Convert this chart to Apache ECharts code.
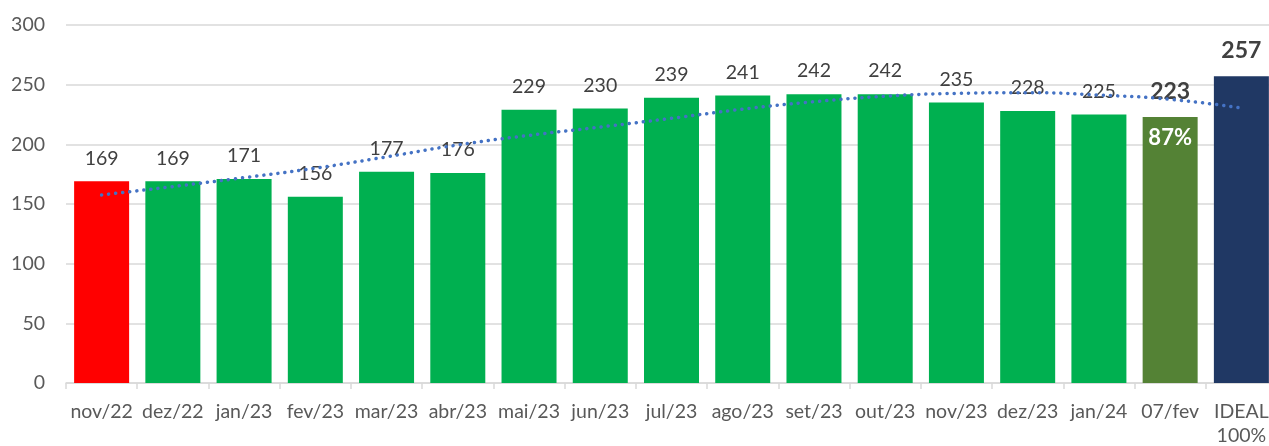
<!DOCTYPE html>
<html>
<head>
<meta charset="utf-8">
<script src="https://cdn.jsdelivr.net/npm/echarts@6/dist/echarts.min.js"></script>
<style>html,body{margin:0;padding:0;background:#fff}#c{width:1269px;height:446px}</style>
</head>
<body>
<div id="c"></div>
<script>
const categories = ['nov/22','dez/22','jan/23','fev/23','mar/23','abr/23','mai/23','jun/23','jul/23','ago/23','set/23','out/23','nov/23','dez/23','jan/24','07/fev','IDEAL\n100%'];
const values = [169,169,171,156,177,176,229,230,239,241,242,242,235,228,225,223,257];
const trend = [157.6,164.6,172.1,180,189.5,199.5,207.5,214.5,221.8,229.5,235.7,240.3,242.7,243.3,241.3,237.7,230.4];
const pctLabels = ['','','','','','','','','','','','','','','','87%',''];
const yTicks = [0,50,100,150,200,250,300];

const barColors = ['#FF0000','#00B050','#00B050','#00B050','#00B050','#00B050','#00B050','#00B050','#00B050','#00B050','#00B050','#00B050','#00B050','#00B050','#00B050','#548235','#203864'];
const boldIdx = [15,16];
const FONT = 'Lato';

const chart = echarts.init(document.getElementById('c'), null, {renderer:'canvas'});
const barData = values.map((v,i) => {
  const d = {value: v, itemStyle: {color: barColors[i]}};
  if (boldIdx.includes(i)) {
    d.label = {fontWeight: 'bold', fontSize: 23, color: '#404040', distance: 14};
  }
  return d;
});
const pctData = pctLabels.map((p,i) => p ? {value: values[i], label: {formatter: p}} : null);

chart.setOption({
  animation: false,
  textStyle: {fontFamily: FONT},
  grid: {left: 66, top: 25, width: 1211, bottom: 63, containLabel: false, outerBoundsMode: 'none'},
  xAxis: {
    type: 'category',
    data: categories,
    axisLine: {lineStyle: {color: '#d9d9d9', width: 1.5}},
    axisTick: {show: true, length: 6, lineStyle: {color: '#d9d9d9', width: 1.5}},
    axisLabel: {color: '#595959', fontSize: 19.5, fontFamily: FONT, lineHeight: 24, margin: 17, interval: 0}
  },
  yAxis: {
    type: 'value',
    min: yTicks[0], max: yTicks[yTicks.length-1], interval: 50,
    axisLine: {show: false},
    axisTick: {show: false},
    axisLabel: {color: '#595959', fontSize: 19.5, fontFamily: FONT, margin: 21},
    splitLine: {lineStyle: {color: '#d9d9d9', width: 1.5}}
  },
  series: [
    {
      type: 'bar',
      data: barData,
      barWidth: 55,
      label: {show: true, position: 'top', distance: 13, color: '#404040', fontSize: 19.5, fontFamily: FONT},
      z: 2
    },
    {
      type: 'bar',
      data: pctData,
      barWidth: 55,
      barGap: '-100%',
      itemStyle: {color: 'rgba(0,0,0,0)'},
      label: {show: true, position: 'insideTop', distance: 10, color: '#ffffff', fontSize: 22, fontWeight: 'bold', fontFamily: FONT},
      z: 3
    },
    {
      type: 'line',
      data: trend,
      smooth: true,
      symbol: 'none',
      lineStyle: {color: '#4472C4', width: 3.5, type: [0.1, 7], cap: 'round'},
      z: 5
    }
  ]
});
</script>
</body>
</html>
